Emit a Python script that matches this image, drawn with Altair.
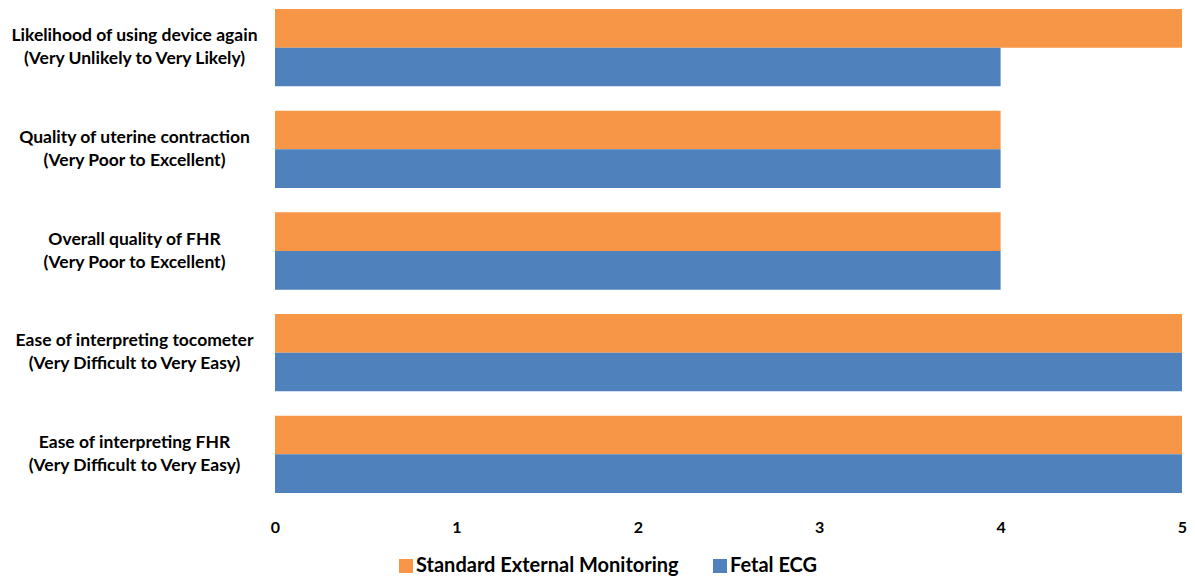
import altair as alt
import pandas as pd

categories = [
    "Likelihood of using device again|(Very Unlikely to Very Likely)",
    "Quality of uterine contraction|(Very Poor to Excellent)",
    "Overall quality of FHR|(Very Poor to Excellent)",
    "Ease of interpreting tocometer|(Very Difficult to Very Easy)",
    "Ease of interpreting FHR|(Very Difficult to Very Easy)",
]
series = ["Standard External Monitoring", "Fetal ECG"]
standard_values = [5, 4, 4, 5, 5]
fetal_values = [4, 4, 4, 5, 5]
colors = ["#F79646", "#4F81BD"]

rows = []
for c, s, f in zip(categories, standard_values, fetal_values):
    rows.append({"category": c, "series": series[0], "value": s})
    rows.append({"category": c, "series": series[1], "value": f})
df = pd.DataFrame(rows)

FONT = "Lato"

chart = alt.Chart(df).mark_bar().encode(
    y=alt.Y(
        "category:N",
        sort=categories,
        title=None,
        scale=alt.Scale(paddingInner=0.24, paddingOuter=0),
        axis=alt.Axis(
            labelExpr="split(datum.label, '|')",
            labelAlign="center",
            labelPadding=141,
            labelLimit=400,
            labelFontSize=17.5,
            labelFontWeight="bold",
            labelFont=FONT,
            labelColor="#000000",
            labelLineHeight=23,
            labelBaseline="middle",
            labelOffset=-11.5,
            ticks=False,
            domain=False,
            grid=False,
        ),
    ),
    yOffset=alt.YOffset("series:N", sort=series),
    x=alt.X(
        "value:Q",
        title=None,
        scale=alt.Scale(domain=[0, 5], nice=False),
        axis=alt.Axis(
            values=[0, 1, 2, 3, 4, 5],
            format="d",
            labelFontSize=16,
            labelFontWeight="bold",
            labelFont=FONT,
            labelColor="#000000",
            labelPadding=26,
            labelFlush=False,
            ticks=False,
            domain=False,
            grid=False,
        ),
    ),
    color=alt.Color(
        "series:N",
        sort=series,
        scale=alt.Scale(domain=series, range=colors),
        legend=alt.Legend(
            title=None,
            orient="none",
            direction="horizontal",
            legendX=121,
            legendY=547,
            symbolType="square",
            symbolSize=196,
            symbolStrokeWidth=0,
            labelFontSize=20,
            labelFontWeight="bold",
            labelFont=FONT,
            labelColor="#000000",
            labelOffset=0,
            columnPadding=31,
            labelLimit=400,
        ),
    ),
).properties(
    width=907,
    height=484,
    padding={"left": 267, "top": 1, "right": 5, "bottom": 88},
    autosize=alt.AutoSizeParams(type="none"),
).configure_view(stroke=None)

chart.save("out.html", embed_options={"renderer": "svg", "actions": False})
